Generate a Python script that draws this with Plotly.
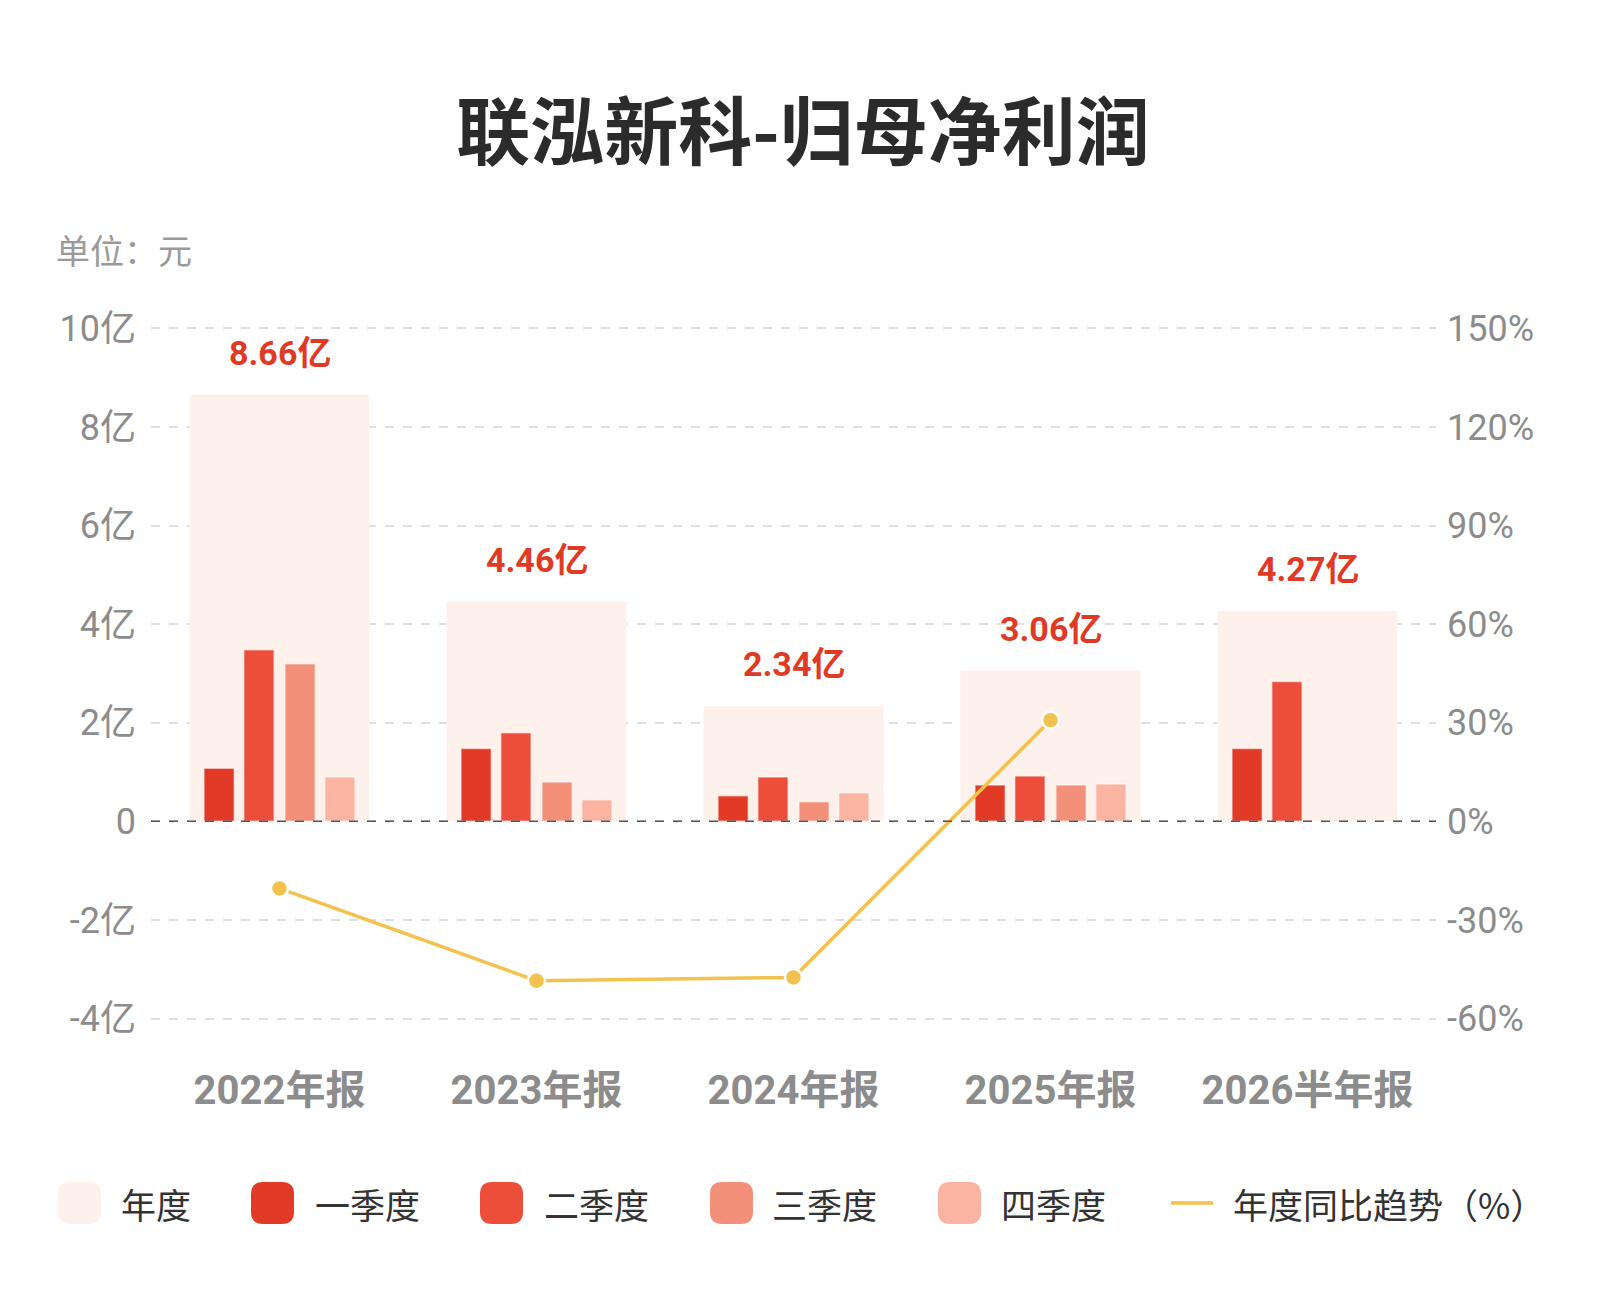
import plotly.graph_objects as go

# ---- data ----
categories = ["2022年报", "2023年报", "2024年报", "2025年报", "2026半年报"]
annual = [8.66, 4.46, 2.34, 3.06, 4.27]          # 亿元
annual_labels = ["8.66亿", "4.46亿", "2.34亿", "3.06亿", "4.27亿"]
q1 = [1.08, 1.48, 0.52, 0.74, 1.48]
q2 = [3.48, 1.80, 0.90, 0.92, 2.84]
q3 = [3.20, 0.80, 0.40, 0.74, None]
q4 = [0.90, 0.44, 0.58, 0.76, None]
yoy = [-20.4, -48.5, -47.5, 30.8, None]            # %

left_ticks = [-4, -2, 0, 2, 4, 6, 8, 10]
left_text = ["-4亿", "-2亿", "0", "2亿", "4亿", "6亿", "8亿", "10亿"]
right_ticks = [-60, -30, 0, 30, 60, 90, 120, 150]
right_text = ["-60%", "-30%", "0%", "30%", "60%", "90%", "120%", "150%"]

quarter_names = ["一季度", "二季度", "三季度", "四季度"]
quarter_vals = [q1, q2, q3, q4]

# ---- styles ----
FONT = "Roboto, Noto Sans CJK SC, sans-serif"
CJK = "Noto Sans CJK SC, sans-serif"
annual_color = "#FEF0EB"
q_colors = ["#E13A26", "#EC4E3B", "#F39079", "#FBB3A2"]
line_color = "#F2C14E"
label_red = "#E03A26"
gray = "#8C8C8C"

q_offsets = [-0.235, -0.08, 0.08, 0.235]
q_width = 0.118

# plot area in page pixels (page has an 8px body margin)
PL, PR, PT, PB = 151, 1436, 327, 1020
def px(x):
    return (x - PL) / (PR - PL)
def py(y):
    return (PB - y) / (PB - PT)

xs = list(range(len(categories)))

fig = go.Figure()

# annual background bars
fig.add_trace(go.Bar(
    x=xs, y=annual, width=0.7, name="年度",
    marker=dict(color=annual_color, line=dict(width=0)),
    showlegend=False, hoverinfo="skip"
))

# quarterly bars
for k, (name, vals) in enumerate(zip(quarter_names, quarter_vals)):
    fig.add_trace(go.Bar(
        x=[i + q_offsets[k] for i in xs], y=vals, width=q_width, name=name,
        marker=dict(color=q_colors[k], line=dict(color="rgba(255,255,255,0.55)", width=1.5)),
        showlegend=False
    ))

# yoy line on secondary axis
fig.add_trace(go.Scatter(
    x=xs, y=yoy, yaxis="y2", mode="lines+markers", name="年度同比趋势（%）",
    line=dict(color=line_color, width=3.5),
    marker=dict(size=17, color=line_color, line=dict(color="white", width=2.5)),
    connectgaps=False, showlegend=False, cliponaxis=False
))

# annual value labels
for i, (v, t) in enumerate(zip(annual, annual_labels)):
    fig.add_annotation(
        x=i, y=v, xref="x", yref="y", text=f"<b>{t}</b>", showarrow=False,
        yanchor="bottom", yshift=20,
        font=dict(size=34, color=label_red, family=FONT)
    )

# zero line (dashed, darker)
fig.add_shape(type="line", xref="paper", x0=0, x1=1, yref="y", y0=0, y1=0,
              line=dict(color="#555555", width=1.5, dash="dash"), layer="above")

# unit label
fig.add_annotation(x=px(54), y=py(249), xref="paper", yref="paper", text="单位：元",
                   showarrow=False, xanchor="left", yanchor="middle",
                   font=dict(size=34, color="#9A9A9A", family=CJK))

fig.update_layout(
    width=1600, height=1300,
    paper_bgcolor="white", plot_bgcolor="white",
    margin=dict(l=PL - 8, r=1600 - (PR - 8), t=PT - 8, b=1300 - (PB - 8)),
    barmode="overlay",
    title=dict(text="<b>联泓新科-归母净利润</b>", x=795 / 1600, xanchor="center",
               y=1 - 125 / 1300, yanchor="middle",
               font=dict(size=74, color="#2B2B2B", family=CJK)),
    font=dict(family=FONT, color=gray),
    xaxis=dict(range=[-0.5, 4.5], tickvals=xs, ticktext=[f"<b>{c}</b>" for c in categories],
               tickfont=dict(size=40, color=gray, family=FONT),
               showgrid=False, zeroline=False, showline=False, ticks="",
               ticklabelstandoff=43),
    yaxis=dict(range=[-4.03, 10.03], tickvals=left_ticks, ticktext=left_text,
               tickfont=dict(size=36, color=gray, family=FONT),
               showgrid=True, gridcolor="#E0E0E0", griddash="dash", gridwidth=1.5,
               zeroline=False, showline=False, ticks="", ticklabelstandoff=14),
    yaxis2=dict(range=[-60.45, 150.45], tickvals=right_ticks, ticktext=right_text,
                overlaying="y", side="right",
                tickfont=dict(size=36, color=gray, family=FONT),
                showgrid=False, zeroline=False, showline=False, ticks="",
                ticklabelstandoff=10),
)

# ---- legend drawn manually ----
legend_items = [
    ("年度", annual_color, 58, 119, "box"),
    ("一季度", q_colors[0], 251, 313, "box"),
    ("二季度", q_colors[1], 480, 542, "box"),
    ("三季度", q_colors[2], 710, 770, "box"),
    ("四季度", q_colors[3], 938, 999, "box"),
    ("年度同比趋势（%）", line_color, 1171, 1231, "line"),
]
ly = 1203
bw, bh, r = 43, 42, 12
hw, hh = bw / 2, bh / 2
rr_path = (f"M {-hw + r},{-hh} L {hw - r},{-hh} Q {hw},{-hh} {hw},{-hh + r} "
           f"L {hw},{hh - r} Q {hw},{hh} {hw - r},{hh} L {-hw + r},{hh} "
           f"Q {-hw},{hh} {-hw},{hh - r} L {-hw},{-hh + r} Q {-hw},{-hh} {-hw + r},{-hh} Z")
for text, color, bx, tx, kind in legend_items:
    if kind == "box":
        fig.add_shape(type="path", xref="paper", yref="paper",
                      xsizemode="pixel", ysizemode="pixel",
                      xanchor=px(bx + hw), yanchor=py(ly),
                      path=rr_path, fillcolor=color, line=dict(width=0))
    else:
        fig.add_shape(type="line", xref="paper", yref="paper",
                      x0=px(bx), x1=px(bx + 42), y0=py(ly), y1=py(ly),
                      line=dict(color=color, width=3.5))
    fig.add_annotation(x=px(tx), y=py(ly), xref="paper", yref="paper", text=text,
                       showarrow=False, xanchor="left", yanchor="middle",
                       font=dict(size=35, color="#333333", family=CJK))

fig.write_html("out.html")
